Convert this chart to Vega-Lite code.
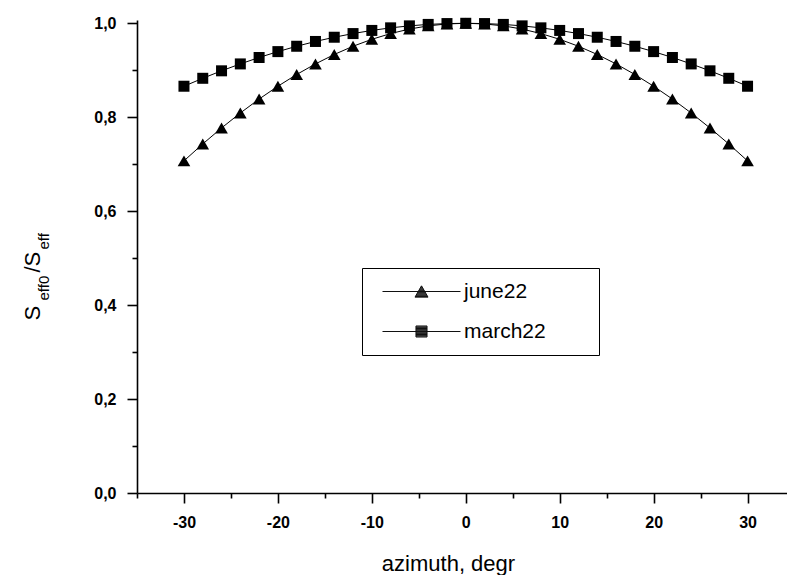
{
  "$schema": "https://vega.github.io/schema/vega-lite/v6.json",
  "width": 650,
  "height": 473,
  "autosize": {"type": "none"},
  "padding": {"left": 137, "top": 20, "right": 0, "bottom": 82},
  "background": "white",
  "config": {
    "view": {"stroke": null},
    "axis": {
      "labelFont": "Liberation Sans",
      "labelFontWeight": "bold",
      "labelFontSize": 16,
      "labelColor": "black",
      "domainColor": "black",
      "domainWidth": 1.6,
      "tickColor": "black",
      "tickWidth": 1.6,
      "grid": false,
      "titleFont": "Liberation Sans",
      "titleFontWeight": "normal",
      "titleColor": "black"
    },
    "legend": {
      "strokeColor": "black",
      "fillColor": "white",
      "padding": 13,
      "symbolSize": 169,
      "symbolOffset": 36,
      "labelOffset": 32,
      "rowPadding": 18,
      "labelFont": "Liberation Sans",
      "labelFontSize": 21,
      "labelColor": "black"
    }
  },
  "data": {
    "values": [
      {"x": -30, "series": "june22", "v": 0.7071},
      {"x": -28, "series": "june22", "v": 0.7431},
      {"x": -26, "series": "june22", "v": 0.7771},
      {"x": -24, "series": "june22", "v": 0.809},
      {"x": -22, "series": "june22", "v": 0.8387},
      {"x": -20, "series": "june22", "v": 0.866},
      {"x": -18, "series": "june22", "v": 0.891},
      {"x": -16, "series": "june22", "v": 0.9135},
      {"x": -14, "series": "june22", "v": 0.9336},
      {"x": -12, "series": "june22", "v": 0.9511},
      {"x": -10, "series": "june22", "v": 0.9659},
      {"x": -8, "series": "june22", "v": 0.9781},
      {"x": -6, "series": "june22", "v": 0.9877},
      {"x": -4, "series": "june22", "v": 0.9945},
      {"x": -2, "series": "june22", "v": 0.9986},
      {"x": 0, "series": "june22", "v": 1.0},
      {"x": 2, "series": "june22", "v": 0.9986},
      {"x": 4, "series": "june22", "v": 0.9945},
      {"x": 6, "series": "june22", "v": 0.9877},
      {"x": 8, "series": "june22", "v": 0.9781},
      {"x": 10, "series": "june22", "v": 0.9659},
      {"x": 12, "series": "june22", "v": 0.9511},
      {"x": 14, "series": "june22", "v": 0.9336},
      {"x": 16, "series": "june22", "v": 0.9135},
      {"x": 18, "series": "june22", "v": 0.891},
      {"x": 20, "series": "june22", "v": 0.866},
      {"x": 22, "series": "june22", "v": 0.8387},
      {"x": 24, "series": "june22", "v": 0.809},
      {"x": 26, "series": "june22", "v": 0.7771},
      {"x": 28, "series": "june22", "v": 0.7431},
      {"x": 30, "series": "june22", "v": 0.7071},
      {"x": -30, "series": "march22", "v": 0.866},
      {"x": -28, "series": "march22", "v": 0.8829},
      {"x": -26, "series": "march22", "v": 0.8988},
      {"x": -24, "series": "march22", "v": 0.9135},
      {"x": -22, "series": "march22", "v": 0.9272},
      {"x": -20, "series": "march22", "v": 0.9397},
      {"x": -18, "series": "march22", "v": 0.9511},
      {"x": -16, "series": "march22", "v": 0.9613},
      {"x": -14, "series": "march22", "v": 0.9703},
      {"x": -12, "series": "march22", "v": 0.9781},
      {"x": -10, "series": "march22", "v": 0.9848},
      {"x": -8, "series": "march22", "v": 0.9903},
      {"x": -6, "series": "march22", "v": 0.9945},
      {"x": -4, "series": "march22", "v": 0.9976},
      {"x": -2, "series": "march22", "v": 0.9994},
      {"x": 0, "series": "march22", "v": 1.0},
      {"x": 2, "series": "march22", "v": 0.9994},
      {"x": 4, "series": "march22", "v": 0.9976},
      {"x": 6, "series": "march22", "v": 0.9945},
      {"x": 8, "series": "march22", "v": 0.9903},
      {"x": 10, "series": "march22", "v": 0.9848},
      {"x": 12, "series": "march22", "v": 0.9781},
      {"x": 14, "series": "march22", "v": 0.9703},
      {"x": 16, "series": "march22", "v": 0.9613},
      {"x": 18, "series": "march22", "v": 0.9511},
      {"x": 20, "series": "march22", "v": 0.9397},
      {"x": 22, "series": "march22", "v": 0.9272},
      {"x": 24, "series": "march22", "v": 0.9135},
      {"x": 26, "series": "march22", "v": 0.8988},
      {"x": 28, "series": "march22", "v": 0.8829},
      {"x": 30, "series": "march22", "v": 0.866}
    ]
  },
  "encoding": {
    "x": {
      "field": "x",
      "type": "quantitative",
      "scale": {"domain": [-35, 34.2], "nice": false, "zero": false},
      "axis": {
        "values": [-35, -30, -25, -20, -15, -10, -5, 0, 5, 10, 15, 20, 25, 30],
        "labelExpr": "datum.value % 10 == 0 ? '' + datum.value : ''",
        "tickSize": {"condition": {"test": "datum.value % 10 == 0", "value": 10}, "value": 5},
        "labelPadding": 11,
        "labelFlush": false,
        "labelOverlap": false,
        "title": "azimuth, degr",
        "titleFontSize": 22,
        "titleX": 311,
        "titleY": 77,
        "titleAlign": "center",
        "titleBaseline": "alphabetic"
      }
    }
  },
  "layer": [
    {
      "mark": {"type": "line", "color": "black", "strokeWidth": 1},
      "encoding": {
        "y": {
          "field": "v",
          "type": "quantitative",
          "scale": {"domain": [0, 1.007], "nice": false, "zero": false},
          "axis": {
            "orient": "left",
            "values": [0, 0.1, 0.2, 0.3, 0.4, 0.5, 0.6, 0.7, 0.8, 0.9, 1.0],
            "labelExpr": "round(datum.value*10) % 2 == 0 ? replace(format(datum.value, '.1f'), '.', ',') : ''",
            "tickSize": {"condition": {"test": "round(datum.value*10) % 2 == 0", "value": 10}, "value": 5},
            "labelPadding": 11,
            "labelFlush": false,
            "labelOverlap": false,
            "title": "S",
            "titleFontSize": 22,
            "titleAngle": 270,
            "titleAlign": "left",
            "titleBaseline": "alphabetic",
            "titleX": -98,
            "titleY": 300
          }
        },
        "detail": {"field": "series", "type": "nominal"}
      }
    },
    {
      "mark": {"type": "point", "filled": true, "color": "black", "opacity": 1, "size": 160},
      "encoding": {
        "y": {
          "field": "v",
          "type": "quantitative",
          "scale": {"domain": [0, 1.007], "nice": false, "zero": false},
          "axis": {
            "orient": "left",
            "domain": false,
            "ticks": false,
            "labels": false,
            "title": "/S",
            "titleFontSize": 22,
            "titleAngle": 270,
            "titleAlign": "left",
            "titleBaseline": "alphabetic",
            "titleX": -98,
            "titleY": 252
          }
        },
        "shape": {
          "field": "series",
          "type": "nominal",
          "scale": {"domain": ["june22", "march22"], "range": ["triangle-up", "M-0.87,-0.87L0.87,-0.87L0.87,0.87L-0.87,0.87Z"]},
          "legend": null
        }
      }
    },
    {
      "mark": {"type": "point", "opacity": 0},
      "encoding": {
        "y": {
          "field": "v",
          "type": "quantitative",
          "scale": {"domain": [0, 1.007], "nice": false, "zero": false},
          "axis": {
            "orient": "left",
            "domain": false,
            "ticks": false,
            "labels": false,
            "title": "eff0",
            "titleFontSize": 15,
            "titleAngle": 270,
            "titleAlign": "left",
            "titleBaseline": "alphabetic",
            "titleX": -89,
            "titleY": 280
          }
        }
      }
    },
    {
      "mark": {"type": "point", "opacity": 0},
      "encoding": {
        "y": {
          "field": "v",
          "type": "quantitative",
          "scale": {"domain": [0, 1.007], "nice": false, "zero": false},
          "axis": {
            "orient": "left",
            "domain": false,
            "ticks": false,
            "labels": false,
            "title": "eff",
            "titleFontSize": 15,
            "titleAngle": 270,
            "titleAlign": "left",
            "titleBaseline": "alphabetic",
            "titleX": -89,
            "titleY": 229
          }
        }
      }
    },
    {
      "transform": [{"filter": "false"}],
      "mark": {"type": "point", "filled": false, "color": "#111111", "strokeWidth": 1, "opacity": 1},
      "encoding": {
        "y": {
          "field": "v",
          "type": "quantitative",
          "scale": {"domain": [0, 1.007], "nice": false, "zero": false},
          "axis": null
        },
        "shape": {
          "field": "series",
          "type": "nominal",
          "scale": {
            "domain": ["june22", "march22"],
            "range": [
              "M-6,0L6,0M0,-0.87L1,0.87L-1,0.87ZM-0.05,-0.78L0.05,-0.78M-0.13,-0.65L0.13,-0.65M-0.2,-0.52L0.2,-0.52M-0.28,-0.39L0.28,-0.39M-0.35,-0.26L0.35,-0.26M-0.43,-0.13L0.43,-0.13M-0.58,0.13L0.58,0.13M-0.65,0.26L0.65,0.26M-0.72,0.39L0.72,0.39M-0.8,0.52L0.8,0.52M-0.87,0.65L0.87,0.65M-0.95,0.78L0.95,0.78M25,0",
              "M-6,0L6,0M-0.85,-0.85L0.85,-0.85L0.85,0.85L-0.85,0.85ZM-0.85,-0.72L0.85,-0.72M-0.85,-0.59L0.85,-0.59M-0.85,-0.46L0.85,-0.46M-0.85,-0.33L0.85,-0.33M-0.85,-0.2L0.85,-0.2M-0.85,-0.07L0.85,-0.07M-0.85,0.07L0.85,0.07M-0.85,0.2L0.85,0.2M-0.85,0.33L0.85,0.33M-0.85,0.46L0.85,0.46M-0.85,0.59L0.85,0.59M-0.85,0.72L0.85,0.72M25,0"
            ]
          },
          "legend": {
            "title": null,
            "orient": "none",
            "legendX": 225,
            "legendY": 248,
            "symbolStrokeWidth": 1,
            "symbolOpacity": 1,
            "encode": {
              "symbols": {
                "update": {
                  "fill": {"value": "black"},
                  "stroke": {"value": "#111111"},
                  "strokeWidth": {"value": 1}
                }
              }
            }
          }
        }
      }
    }
  ],
  "resolve": {"axis": {"y": "independent"}, "scale": {"shape": "independent"}}
}
